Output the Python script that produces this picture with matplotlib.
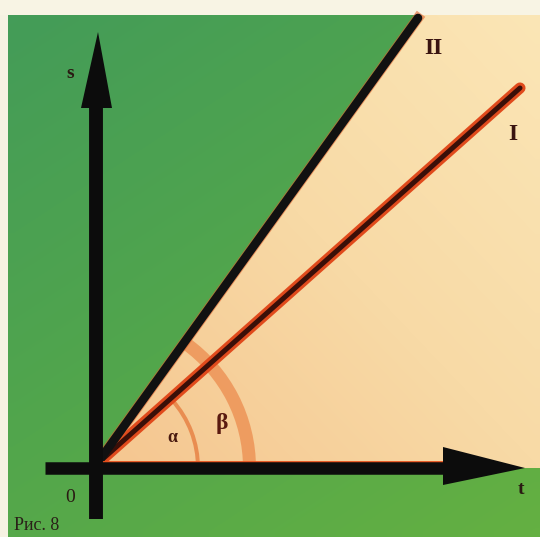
import numpy as np
import matplotlib.pyplot as plt
from matplotlib.patches import Polygon, Rectangle, Wedge
from matplotlib.colors import LinearSegmentedColormap

# diagram data (t, s units, origin at the axes crossing)
line_names = ["I", "II"]
t_end = [424, 322]
s_end = [380, 450]
alpha_r = 104
beta_r = 154
t_axis = (-51, 429)
s_axis = (-51, 436)
t_lim = (-96, 444)
s_lim = (-69, 468)

ang = [np.degrees(np.arctan2(s, t)) for t, s in zip(t_end, s_end)]

fig = plt.figure(figsize=(5.4, 5.37), dpi=100)
fig.patch.set_facecolor('#f6f2e2')
ax = fig.add_axes([0, 0, 1, 1])
ax.set_xlim(*t_lim)
ax.set_ylim(*s_lim)
ax.axis('off')

# green background with a soft gradient
green_ext = (-88, 444, -69, 453)
gcm = LinearSegmentedColormap.from_list('g', ['#64b042', '#52a64c', '#449c58'])
gx, gy = np.meshgrid(np.linspace(0, 1, 50), np.linspace(0, 1, 50))
ax.imshow(0.6 * gy + 0.4 * (1 - gx), cmap=gcm, extent=green_ext, origin='lower',
          interpolation='bilinear', aspect='auto', zorder=1)

# peach sector between t axis and line II
top = s_lim[1]
wedge_pts = [(0, 0), (t_lim[1], 0), (t_lim[1], top), (t_end[1] * top / s_end[1], top)]
pcm = LinearSegmentedColormap.from_list('p', ['#f5c690', '#f8daa6', '#fbe6b6'])
px, py = np.meshgrid(np.linspace(0, 1, 50), np.linspace(0, 1, 50))
im = ax.imshow(0.5 * py + 0.5 * px, cmap=pcm, extent=(0, t_lim[1], 0, top), origin='lower',
               interpolation='bilinear', aspect='auto', zorder=2)
poly = Polygon(wedge_pts, closed=True, facecolor='none', edgecolor='none')
ax.add_patch(poly)
im.set_clip_path(poly)

# cream strip at the top
ax.add_patch(Rectangle((t_lim[0], green_ext[3]), t_lim[1] - t_lim[0], 30,
                       facecolor='#f8f4e4', edgecolor='none', zorder=3))

# angle arcs
ax.add_patch(Wedge((0, 0), alpha_r, 0, ang[0], width=4, facecolor='#e8874a',
                   edgecolor='none', alpha=0.9, zorder=4))
ax.add_patch(Wedge((0, 0), beta_r + 6, 0, ang[1], width=13, facecolor='#ec8c4e',
                   edgecolor='none', alpha=0.75, zorder=4))

# line I (red with dark core)
ax.plot([0, t_end[0]], [3, s_end[0]], color='#e04a1c', lw=8, solid_capstyle='round', zorder=5)
ax.plot([0, t_end[0]], [3, s_end[0]], color='#3a0f08', lw=3.6, solid_capstyle='round', zorder=6)
# line II (black)
ax.plot([0, t_end[1]], [3, s_end[1]], color='#e0602a', lw=7.5, alpha=0.6, zorder=5)
ax.plot([0, t_end[1]], [3, s_end[1]], color='#111111', lw=6.2, solid_capstyle='round', zorder=6)

# orange rim on top of t axis
ax.plot([0, 350], [6, 6], color='#e8501c', lw=2, zorder=6)

# axes with arrows
ax.plot([t_axis[0], t_axis[1] - 70], [0, 0], color='#0c0c0c', lw=9, solid_capstyle='butt', zorder=7)
ax.add_patch(Polygon([(t_axis[1] - 82, 21), (t_axis[1], 0), (t_axis[1] - 82, -17)],
                     closed=True, facecolor='#0c0c0c', edgecolor='none', zorder=7))
ax.plot([0, 0], [s_axis[0], s_axis[1] - 70], color='#0c0c0c', lw=10, solid_capstyle='butt', zorder=7)
ax.add_patch(Polygon([(-15, s_axis[1] - 76), (2, s_axis[1]), (16, s_axis[1] - 76)],
                     closed=True, facecolor='#0c0c0c', edgecolor='none', zorder=7))

# labels
serif = 'Liberation Serif'
txt = '#2a1a12'
ax.text(-26, 394, 's', fontsize=14, family=serif, fontweight='bold', color=txt, ha='center', va='center', zorder=8)
ax.text(-26, -30, '0', fontsize=14, family=serif, color=txt, ha='center', va='center', zorder=8)
ax.text(425, -21, 't', fontsize=14, family=serif, fontweight='bold', color=txt, ha='center', va='center', zorder=8)
ax.text(337, 420, 'II', fontsize=17, family=serif, fontweight='bold', color='#3a1410', ha='center', va='center', zorder=8)
ax.text(417, 333, 'I', fontsize=17, family=serif, fontweight='bold', color='#3a1410', ha='center', va='center', zorder=8)
ax.text(76, 30, 'α', fontsize=13, family=serif, fontweight='bold', color='#4a1a10', ha='center', va='center', zorder=8)
ax.text(126, 44, 'β', fontsize=17, family=serif, fontweight='bold', color='#5a1a10', ha='center', va='center', zorder=8)
ax.text(-82, -66, 'Рис. 8', fontsize=13, family=serif, color='#2a2018', ha='left', va='bottom', zorder=8)

fig.savefig('out.png', dpi=100, facecolor=fig.get_facecolor())
